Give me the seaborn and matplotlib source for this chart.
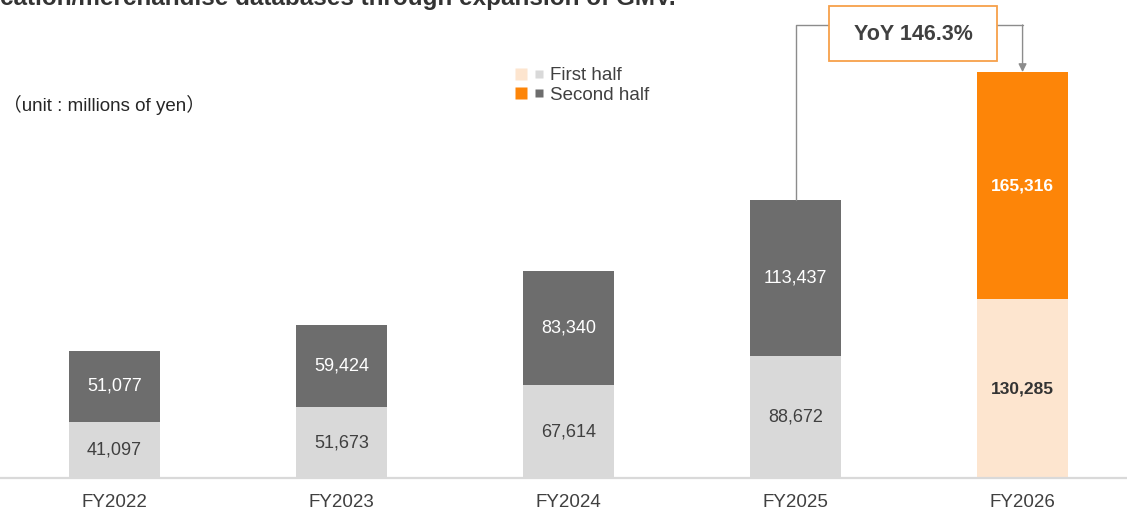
import matplotlib
matplotlib.use("Agg")
import matplotlib.pyplot as plt
import seaborn as sns
import pandas as pd
from matplotlib.lines import Line2D
from matplotlib.patches import Rectangle
from matplotlib.legend_handler import HandlerTuple

# GMV by fiscal year, split into halves (millions of yen)
years = ["FY2022", "FY2023", "FY2024", "FY2025", "FY2026"]
first_half = [41097, 51673, 67614, 88672, 130285]
second_half = [51077, 59424, 83340, 113437, 165316]
yoy_label = "YoY 146.3%"

sns.set_style("white")
plt.rcParams["font.family"] = ["Liberation Sans", "Noto Sans CJK JP", "DejaVu Sans"]

first_colors = ["#d9d9d9"] * 4 + ["#fde5cf"]
second_colors = ["#6d6d6d"] * 4 + ["#fd8508"]
first_text = ["#404040"] * 4 + ["#333333"]
second_text = ["#ffffff"] * 5
label_weight = ["normal"] * 4 + ["bold"]

totals = [a + b for a, b in zip(first_half, second_half)]
df = pd.DataFrame({"year": years, "first": first_half, "second": second_half, "total": totals})

W, H = 1127, 511
fig = plt.figure(figsize=(W / 100, H / 100), dpi=100)
ax = fig.add_axes([0, 33 / H, 1, 478 / H])

# Stack: full totals in second-half colour, first half drawn over the lower part
sns.barplot(data=df, x="year", y="total", hue="year", palette=second_colors,
            width=0.4, legend=False, ax=ax, linewidth=0, saturation=1)
sns.barplot(data=df, x="year", y="first", hue="year", palette=first_colors,
            width=0.4, legend=False, ax=ax, linewidth=0, saturation=1)

ax.set_xlim(-0.504, 4.460)
ax.set_ylim(0, 348100)
ax.set_xlabel("")
ax.set_ylabel("")
ax.set_yticks([])
for s in ["top", "left", "right"]:
    ax.spines[s].set_visible(False)
ax.spines["bottom"].set_color("#d9d9d9")
ax.spines["bottom"].set_linewidth(1.6)
ax.tick_params(axis="x", length=0, pad=11.5, labelsize=13.5, labelcolor="#404040")

for i in range(len(years)):
    ax.text(i, first_half[i] / 2, f"{first_half[i]:,}", ha="center", va="center",
            fontsize=13 if i < 4 else 12.5, color=first_text[i], fontweight=label_weight[i])
    ax.text(i, first_half[i] + second_half[i] / 2, f"{second_half[i]:,}", ha="center",
            va="center", fontsize=13 if i < 4 else 12.5, color=second_text[i],
            fontweight=label_weight[i])

# YoY call-out connecting FY2025 to FY2026
conn_y = 329900
line_kw = dict(color="#8c8c8c", lw=1.0)
ax.plot([3, 3, 3.148], [totals[3], conn_y, conn_y], **line_kw)
ax.plot([3.888, 4.0], [conn_y, conn_y], **line_kw)
ax.annotate("", xy=(4.0, totals[4]), xytext=(4.0, conn_y),
            arrowprops=dict(arrowstyle="-|>", color="#8c8c8c", lw=1.0,
                            mutation_scale=12, shrinkA=0, shrinkB=0))
fig.patches.append(Rectangle((829 / W, 1 - 61 / H), 168 / W, 55 / H,
                             transform=fig.transFigure, facecolor="white",
                             edgecolor="#f7a04a", linewidth=1.3))
fig.text(913 / W, 1 - 34 / H, yoy_label, ha="center", va="center",
         fontsize=15.5, fontweight="bold", color="#404040")

# Legend: each half shown with its highlight and its base colour
h_first = (Line2D([], [], ls="", marker="s", ms=8.8, mfc="#fde5cf", mec="none"),
           Line2D([], [], ls="", marker="s", ms=6.0, mfc="#d9d9d9", mec="none"))
h_second = (Line2D([], [], ls="", marker="s", ms=8.8, mfc="#fd8508", mec="none"),
            Line2D([], [], ls="", marker="s", ms=6.0, mfc="#6d6d6d", mec="none"))
fig.legend([h_first, h_second], ["First half", "Second half"],
           handler_map={tuple: HandlerTuple(ndivide=None, pad=0.3)},
           loc="upper left", bbox_to_anchor=(514 / W, 1 - 67 / H),
           frameon=False, fontsize=13.5, handlelength=1.7, handletextpad=0.2,
           labelspacing=0.12, borderpad=0, borderaxespad=0, labelcolor="#404040")

fig.text(3 / W, 1 - 105 / H, "（unit : millions of yen）", ha="left", va="center",
         fontsize=13.5, color="#262626")
fig.text(0, 1 - 5 / H, "cation/merchandise databases through expansion of GMV.",
         ha="left", va="baseline", fontsize=17.5, fontweight="bold", color="#333333")

fig.savefig("out.png", dpi=100)
